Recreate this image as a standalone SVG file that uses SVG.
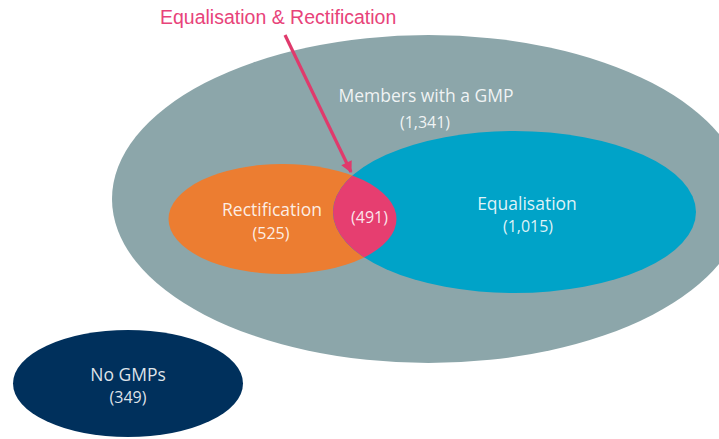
<svg xmlns="http://www.w3.org/2000/svg" width="719" height="439" viewBox="0 0 719 439">
  <style>
    .lbl { font-family: "Open Sans", "Liberation Sans", sans-serif; font-size: 17.5px; fill: #ffffff; fill-opacity: 0.88; text-anchor: middle; }
    .num { font-family: "Open Sans", "Liberation Sans", sans-serif; font-size: 16px; fill: #ffffff; fill-opacity: 0.88; text-anchor: middle; }
    .title { font-family: "Liberation Sans", Arial, sans-serif; font-size: 19.5px; fill: #e8437a; }
    .pointer { stroke: #e03a6c; stroke-width: 3.2; fill: none; }
  </style>
  <defs>
    <marker id="head" viewBox="0 0 10 10" refX="9" refY="5" markerWidth="4" markerHeight="3.6" orient="auto" markerUnits="strokeWidth">
      <path d="M0,0 L10,5 L0,10 Z" fill="#e03a6c"/>
    </marker>
    <clipPath id="rectClip">
      <ellipse cx="282.5" cy="219" rx="114" ry="55"/>
    </clipPath>
  </defs>
  <rect width="719" height="439" fill="#ffffff"/>

  <g id="members-gmp">
    <ellipse cx="428.5" cy="199" rx="316.5" ry="164" fill="#8ca6aa"/>
    <text class="lbl" x="426" y="102">Members with a GMP</text>
    <text class="num" x="425" y="128">(1,341)</text>
  </g>

  <g id="rectification">
    <ellipse cx="282.5" cy="219" rx="114" ry="55" fill="#ec7d31"/>
    <text class="lbl" x="272" y="216">Rectification</text>
    <text class="num" x="271" y="239">(525)</text>
  </g>

  <g id="equalisation">
    <ellipse cx="514.5" cy="212" rx="181.5" ry="81" fill="#00a3c8"/>
    <text class="lbl" x="527" y="210">Equalisation</text>
    <text class="num" x="528" y="232">(1,015)</text>
  </g>

  <g id="both">
    <ellipse cx="514.5" cy="212" rx="181.5" ry="81" fill="#e63e70" clip-path="url(#rectClip)"/>
    <text class="num" x="369.5" y="223">(491)</text>
  </g>

  <g id="no-gmps">
    <ellipse cx="128" cy="383.5" rx="115" ry="53.5" fill="#00305c"/>
    <text class="lbl" x="128" y="381">No GMPs</text>
    <text class="num" x="128" y="403">(349)</text>
  </g>

  <g id="callout">
    <text class="title" x="160" y="24">Equalisation &amp; Rectification</text>
  </g>

  <g id="connectors">
    <line class="pointer" x1="285" y1="35" x2="351" y2="172" marker-end="url(#head)"/>
  </g>
</svg>
